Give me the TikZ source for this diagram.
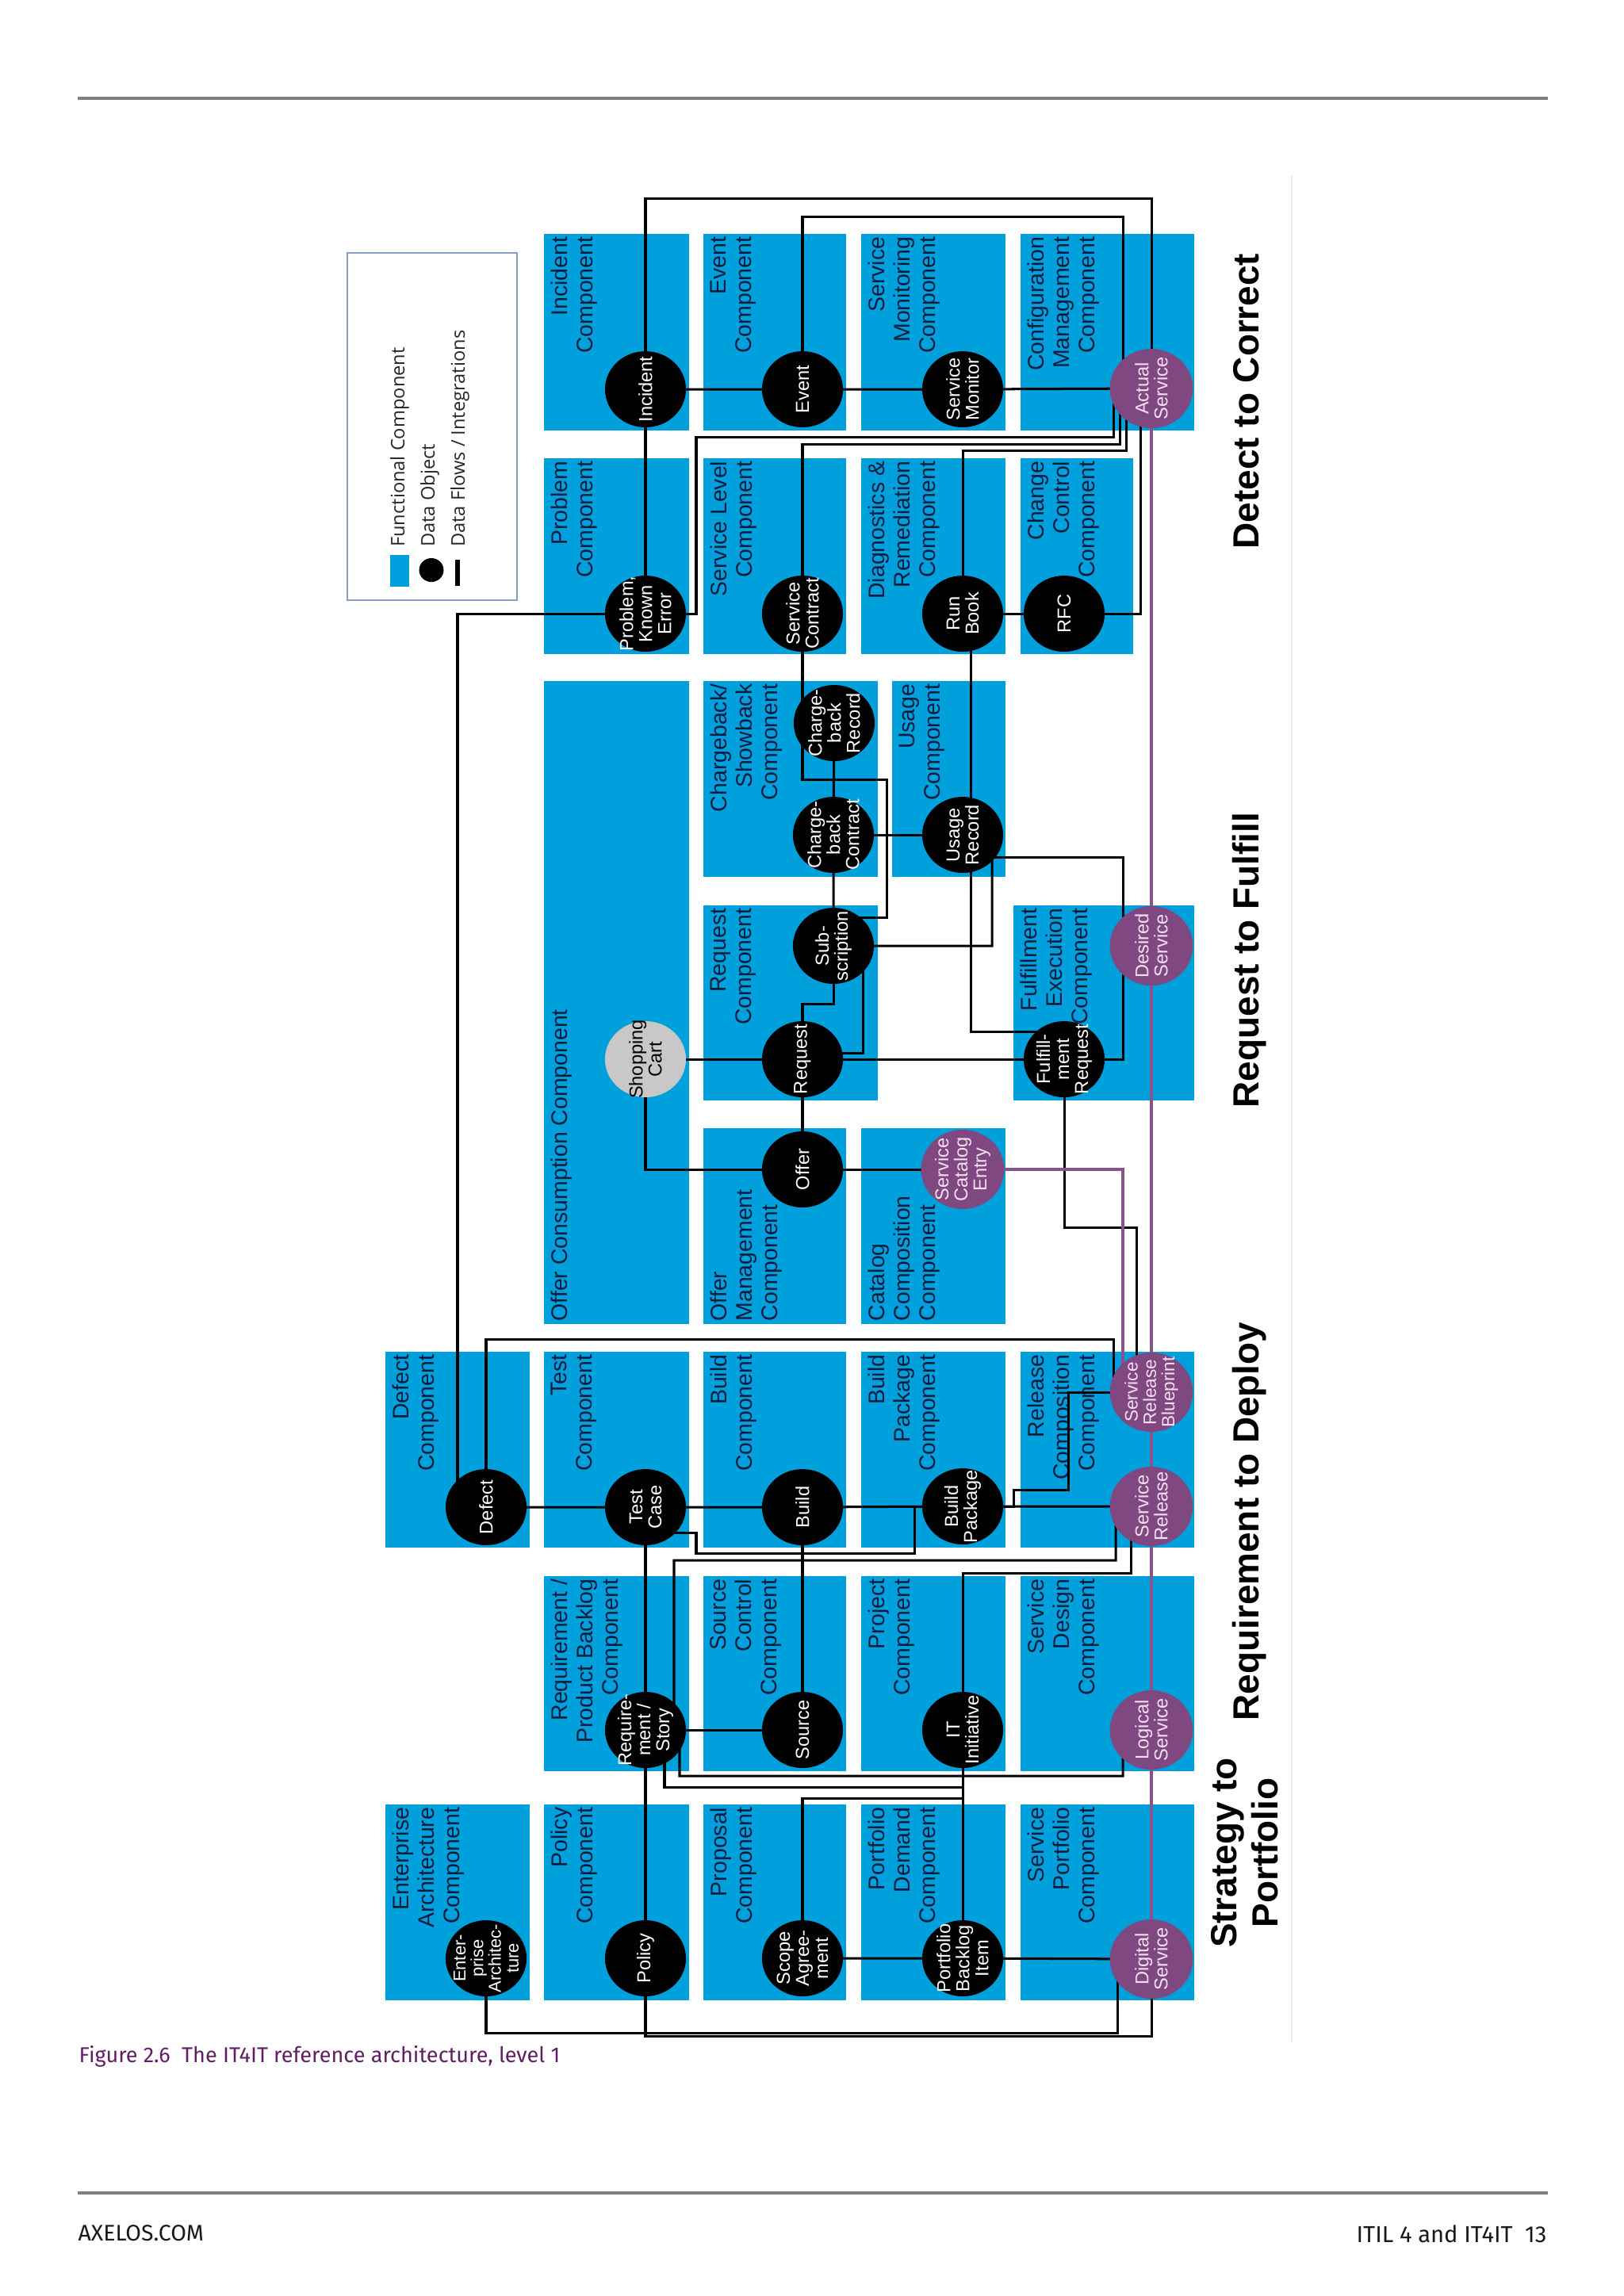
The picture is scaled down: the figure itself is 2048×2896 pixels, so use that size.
\documentclass[tikz,border=0pt]{standalone}
\usepackage{fontspec}
\setmainfont{Liberation Sans}
\newfontfamily\legendfont{Open Sans}
\newfontfamily\pagefont{Fira Sans}
\usetikzlibrary{shapes.geometric}
\definecolor{itblue}{RGB}{0,160,221}
\definecolor{svcpurple}{RGB}{128,72,128}
\definecolor{svcline}{RGB}{134,84,138}
\definecolor{svctext}{RGB}{246,222,244}
\definecolor{cartgray}{RGB}{200,200,200}
\definecolor{comptext}{RGB}{16,28,60}
\definecolor{legendline}{RGB}{140,156,200}
\definecolor{capurple}{RGB}{98,30,100}
\definecolor{rulegray}{RGB}{128,128,128}
\pgfdeclarelayer{boxes}
\pgfdeclarelayer{wires}
\pgfsetlayers{boxes,wires,main}

\begin{document}
\begin{tikzpicture}[x=0.0102539cm,y=-0.0102539cm,
  lbl/.style={rotate=90,anchor=north east,align=right,inner sep=0pt,text=comptext,font=\fontsize{8.3pt}{9.3pt}\selectfont},
  lblb/.style={lbl,anchor=north west,align=left},
  dobj/.style={ellipse,fill=black,text=white,rotate=90,inner sep=-12pt,align=center,
    minimum width=28pt,minimum height=29.8pt,font=\fontsize{6.9pt}{7pt}\selectfont},
  svc/.style={dobj,fill=svcpurple,text=svctext,minimum width=29.2pt,minimum height=30.6pt},
  cart/.style={dobj,fill=cartgray,text=black},
  flow/.style={line width=0.88pt,black},
  pflow/.style={line width=1pt,svcline},
  stage/.style={rotate=90,anchor=base,inner sep=0pt,font=\fontsize{13.4pt}{15.2pt}\selectfont\bfseries},
  lgd/.style={rotate=90,anchor=base west,inner sep=0pt,text=black!85,font=\legendfont\fontsize{6.9pt}{8pt}\selectfont}]
\useasboundingbox (0,0) rectangle (2048,2896);

\draw[rulegray,line width=0.9pt] (98,124) -- (1952,124);
\draw[rulegray,line width=0.9pt] (98,2766) -- (1952,2766);
\draw[black!8,line width=0.5pt] (1629,222) -- (1629,2576);

% legend
\draw[legendline,line width=0.45pt] (438,319) rectangle (652,757);
\fill[itblue] (492,700) rectangle (516,740);
\fill[black] (544,719) ellipse [x radius=15.5,y radius=15];
\fill[black] (573.5,706) rectangle (580,739);
\node[lgd] (lgd1) at (510,690.5) {Functional Component};
\node[lgd] (lgd2) at (548,690.5) {Data Object};
\node[lgd] (lgd3) at (586,690.5) {Data Flows / Integrations};

\begin{pgfonlayer}{boxes}
\fill[itblue] (686,295) rectangle (869,543);
\node[lbl] (incC) at (694,298) {Incident\\Component};
\fill[itblue] (887,295) rectangle (1067,543);
\node[lbl] (evtC) at (895,298) {Event\\Component};
\fill[itblue] (1086,295) rectangle (1268,543);
\node[lbl] (smnC) at (1094,298) {Service\\Monitoring\\Component};
\fill[itblue] (1287,295) rectangle (1506,543);
\node[lbl] (cfgC) at (1295,298) {Configuration\\Management\\Component};
\fill[itblue] (686,578) rectangle (869,825);
\node[lbl] (prbC) at (694,581) {Problem\\Component};
\fill[itblue] (887,578) rectangle (1067,825);
\node[lbl] (slvC) at (895,581) {Service Level\\Component};
\fill[itblue] (1086,578) rectangle (1268,825);
\node[lbl] (dgnC) at (1094,581) {Diagnostics \&\\Remediation\\Component};
\fill[itblue] (1287,578) rectangle (1429,825);
\node[lbl] (chgC) at (1295,581) {Change\\Control\\Component};

\fill[itblue] (686,859) rectangle (869,1670);
\node[lblb] (ocsC) at (694,1667) {Offer Consumption Component};
\fill[itblue] (887,859) rectangle (1107,1106);
\node[lbl] (cbkC) at (895,862) {Chargeback/\\Showback\\Component};
\fill[itblue] (1125,859) rectangle (1268,1106);
\node[lbl] (usgC) at (1133,862) {Usage\\Component};
\fill[itblue] (887,1142) rectangle (1107,1388);
\node[lbl] (reqC) at (895,1145) {Request\\Component};
\fill[itblue] (1278,1142) rectangle (1506,1388);
\node[lbl] (fexC) at (1286,1145) {Fulfillment\\Execution\\Component};
\fill[itblue] (887,1423) rectangle (1067,1670);
\node[lblb] (omgC) at (895,1667) {Offer\\Management\\Component};
\fill[itblue] (1086,1423) rectangle (1268,1670);
\node[lblb] (ccpC) at (1094,1667) {Catalog\\Composition\\Component};

\fill[itblue] (486,1705) rectangle (668,1952);
\node[lbl] (dftC) at (494,1708) {Defect\\Component};
\fill[itblue] (686,1705) rectangle (869,1952);
\node[lbl] (tstC) at (694,1708) {Test\\Component};
\fill[itblue] (887,1705) rectangle (1067,1952);
\node[lbl] (bldC) at (895,1708) {Build\\Component};
\fill[itblue] (1086,1705) rectangle (1268,1952);
\node[lbl] (bpkC) at (1094,1708) {Build\\Package\\Component};
\fill[itblue] (1287,1705) rectangle (1506,1952);
\node[lbl] (rlcC) at (1295,1708) {Release\\Composition\\Component};
\fill[itblue] (686,1988) rectangle (869,2234);
\node[lbl] (rqsC) at (694,1991) {Requirement /\\Product Backlog\\Component};
\fill[itblue] (887,1988) rectangle (1067,2234);
\node[lbl] (srcC) at (895,1991) {Source\\Control\\Component};
\fill[itblue] (1086,1988) rectangle (1268,2234);
\node[lbl] (prjC) at (1094,1991) {Project\\Component};
\fill[itblue] (1287,1988) rectangle (1506,2234);
\node[lbl] (sdsC) at (1295,1991) {Service\\Design\\Component};

\fill[itblue] (486,2276) rectangle (668,2523);
\node[lbl] (entC) at (494,2279) {Enterprise\\Architecture\\Component};
\fill[itblue] (686,2276) rectangle (869,2523);
\node[lbl] (polC) at (694,2279) {Policy\\Component};
\fill[itblue] (887,2276) rectangle (1067,2523);
\node[lbl] (prpC) at (895,2279) {Proposal\\Component};
\fill[itblue] (1086,2276) rectangle (1268,2523);
\node[lbl] (pdmC) at (1094,2279) {Portfolio\\Demand\\Component};
\fill[itblue] (1287,2276) rectangle (1506,2523);
\node[lbl] (sptC) at (1295,2279) {Service\\Portfolio\\Component};
\end{pgfonlayer}

% data objects
\node[dobj] (inc) at (814,491) {Incident};
\node[dobj] (evt) at (1012,491) {Event};
\node[dobj] (smn) at (1214,491) {Service\\Monitor};
\node[svc] (act) at (1452,490) {Actual\\Service};
\node[dobj] (prb) at (814,774) {Problem,\\Known\\Error};
\node[dobj] (sct) at (1012,774) {Service\\Contract};
\node[dobj] (rbk) at (1214,774) {Run\\Book};
\node[dobj] (rfc) at (1342,774) {RFC};
\node[dobj] (cbr) at (1052,912) {Charge-\\back\\Record};
\node[dobj] (cbc) at (1051,1053) {Charge-\\back\\Contract};
\node[dobj] (usr) at (1214,1053) {Usage\\Record};
\node[dobj] (sub) at (1051,1193) {Sub-\\scription};
\node[svc] (dsr) at (1452,1193) {Desired\\Service};
\node[cart] (cart) at (814,1336) {Shopping\\Cart};
\node[dobj] (req) at (1012,1336) {Request};
\node[dobj] (frq) at (1342,1336) {Fulfill-\\ment\\Request};
\node[dobj] (ofr) at (1012,1475) {Offer};
\node[svc] (sce) at (1214,1475) {Service\\Catalog\\Entry};
\node[dobj] (dft) at (613,1901) {Defect};
\node[dobj] (tcs) at (814,1901) {Test\\Case};
\node[dobj] (bld) at (1012,1901) {Build};
\node[dobj] (bpk) at (1214,1900) {Build\\Package};
\node[svc,font=\fontsize{6.6pt}{6.8pt}\selectfont] (srb) at (1452,1756) {Service\\Release\\Blueprint};
\node[svc] (srl) at (1452,1900) {Service\\Release};
\node[dobj] (rqs) at (814,2182) {Require-\\ment /\\Story};
\node[dobj] (src) at (1012,2182) {Source};
\node[dobj] (iti) at (1214,2182) {IT\\Initiative};
\node[svc] (lgs) at (1452,2182) {Logical\\Service};
\node[dobj,font=\fontsize{6.4pt}{6.5pt}\selectfont] (ent) at (613,2470) {Enter-\\prise\\Architec-\\ture};
\node[dobj] (pol) at (814,2470) {Policy};
\node[dobj] (sag) at (1012,2470) {Scope\\Agree-\\ment};
\node[dobj] (pbi) at (1214,2470) {Portfolio\\Backlog\\Item};
\node[svc] (dgs) at (1452,2471) {Digital\\Service};

\begin{pgfonlayer}{wires}
% detect to correct
\draw[flow] (inc.center) -- (evt.center) -- (smn.center) -- (act.center);
\draw[flow] (inc.center) -- (prb.center);
\draw[flow] (inc.center) |- (1452,250) -- (act.center);
\draw[flow] (evt.center) |- (1416,273) |- (act.center);
\draw[flow] (prb.center) -| (878,551) -- (1404,551) |- (act.center);
\draw[flow] (sct.center) |- (1412,560) |- (act.center);
\draw[flow] (rbk.center) |- (1420,568) |- (act.center);
\draw[flow] (rfc.center) -- (1438,774) |- (act.center);
\draw[flow] (rbk.center) -- (rfc.center);
% request to fulfill
\draw[flow] (sct.center) |- (1118,983) -- (1118,1157) -| (sub.center);
\draw[flow] (cbr.center) -- (cbc.center) -- (sub.center);
\draw[flow] (cbc.center) -- (usr.center);
\draw[flow] (rbk.center) -| (1224,900) |- (usr.center);
\draw[flow] (usr.center) |- (1416,1081) |- (dsr.center);
\draw[flow] (dsr.center) -| (1416,1336) -- (frq.center);
\draw[flow] (sub.center) -| (1251,1080) -- (usr.center);
\draw[flow] (usr.center) -| (1224,1301) -| (frq.center);
\draw[flow] (req.center) |- (1051,1266) -- (sub.center);
\draw[flow] (sub.center) -| (1088,1328) -| (req.center);
\draw[flow] (cart.center) -- (req.center) -- (frq.center);
\draw[flow] (cart.center) |- (ofr.center);
\draw[flow] (req.center) -- (ofr.center) -- (sce.center);
\draw[flow] (frq.center) |- (1433,1548) |- (srb.center);
\draw[pflow] (sce.center) -| (1416,1756) -- (srb.center);
\draw[pflow] (act.center) -- (dsr.center) -- (srb.center) -- (srl.center) -- (lgs.center) -- (dgs.center);
% requirement to deploy
\draw[flow] (prb.center) -| (577,1901) -- (dft.center);
\draw[flow] (dft.center) |- (1404,1689) |- (srb.center);
\draw[flow] (dft.center) -- (tcs.center) -- (bld.center) -- (bpk.center) -- (srl.center);
\draw[flow] (tcs.center) |- (878,1933) |- (1153,1959) -- (1153,1900) -- (bpk.center);
\draw[flow] (bpk.center) -| (1278,1879) -| (1347,1756) -- (srb.center);
\draw[flow] (rqs.center) -| (850,1968) -| (1407,1925) -- (srl.center);
\draw[flow] (iti.center) |- (1426,1984) |- (srl.center);
\draw[flow] (tcs.center) -- (rqs.center) -- (pol.center);
\draw[flow] (bld.center) -- (src.center);
\draw[flow] (rqs.center) -- (src.center);
\draw[flow] (rqs.center) -| (857,2240) -| (1416,2200) -- (lgs.center);
\draw[flow] (rqs.center) -| (838,2254) -| (pbi.center);
% strategy to portfolio
\draw[flow] (iti.center) -- (pbi.center);
\draw[flow] (sag.center) |- (1214,2268) -- (pbi.center);
\draw[flow] (sag.center) -- (pbi.center) -- (dgs.center);
\draw[flow] (ent.center) |- (1409,2564) |- (dgs.center);
\draw[flow] (pol.center) |- (1452,2568) -- (dgs.center);
\end{pgfonlayer}

% value streams
\node[stage] (d2c) at (1587,506) {Detect to Correct};
\node[stage] (r2f) at (1587,1211) {Request to Fulfill};
\node[stage] (r2d) at (1587,1919) {Requirement to Deploy};
\node[stage,anchor=center,align=center] (s2p) at (1570,2337) {Strategy to\\Portfolio};

\node[anchor=base west,inner sep=0pt,text=capurple,font=\pagefont\fontsize{7.9pt}{9pt}\selectfont] (fig) at (99,2601) {Figure 2.6\ \ The IT4IT reference architecture, level 1};
\node[anchor=base west,inner sep=0pt,text=black!90,font=\pagefont\fontsize{8.3pt}{10pt}\selectfont] (site) at (98,2826) {AXELOS.COM};
\node[anchor=base east,inner sep=0pt,text=black!90,font=\pagefont\fontsize{8.5pt}{10pt}\selectfont] (pg) at (1951,2828) {ITIL 4 and IT4IT\ \ 13};
\end{tikzpicture}
\end{document}
